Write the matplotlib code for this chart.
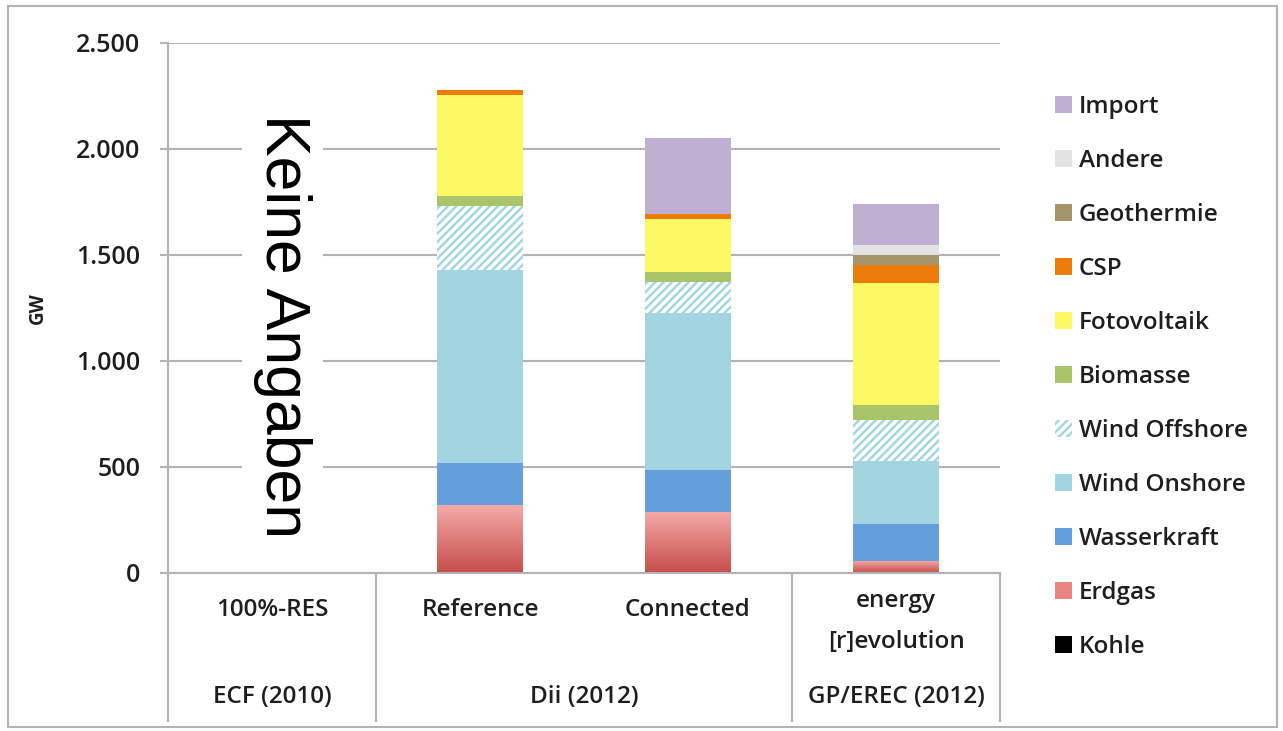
import matplotlib.pyplot as plt
import matplotlib.patches as mpatches
import matplotlib.transforms as mtransforms
from matplotlib.ticker import FuncFormatter
import numpy as np

plt.rcParams['font.family'] = ['Open Sans', 'DejaVu Sans']
plt.rcParams['hatch.linewidth'] = 2.5

# -------------------------
# Data (GW)
# -------------------------
scenarios = ["100%-RES", "Reference", "Connected", "energy\n[r]evolution"]
studies = ["ECF (2010)", "Dii (2012)", "GP/EREC (2012)"]
study_span = [(0, 0), (1, 2), (3, 3)]

kohle = [0, 0, 0, 0]
erdgas = [0, 320, 290, 58]
wasserkraft = [0, 200, 195, 172]
wind_onshore = [0, 910, 740, 300]
wind_offshore = [0, 300, 146, 192]
biomasse = [0, 47, 47, 70]
fotovoltaik = [0, 480, 250, 577]
csp = [0, 23, 24, 84]
geothermie = [0, 0, 0, 47]
andere = [0, 0, 0, 47]
import_gw = [0, 0, 358, 194]

series = [
    ("Kohle", kohle, "#000000"),
    ("Erdgas", erdgas, "#e98482"),
    ("Wasserkraft", wasserkraft, "#649fdb"),
    ("Wind Onshore", wind_onshore, "#a3d4e2"),
    ("Wind Offshore", wind_offshore, "#a3d4e2"),
    ("Biomasse", biomasse, "#a9c46b"),
    ("Fotovoltaik", fotovoltaik, "#fef865"),
    ("CSP", csp, "#ec7c0a"),
    ("Geothermie", geothermie, "#a6956a"),
    ("Andere", andere, "#e3e3e3"),
    ("Import", import_gw, "#bfb0d3"),
]

TXT = "#1e1e1e"
W, H = 1283, 731
fig = plt.figure(figsize=(W / 100, H / 100), dpi=100)
ax = fig.add_axes([168 / W, 1 - 573 / H, (1000 - 168) / W, (573 - 43) / H])

x = np.arange(len(scenarios))
bar_w = 0.41
bottom = np.zeros(len(scenarios))
handles = {}
for name, vals, col in series:
    vals = np.array(vals, dtype=float)
    if name == "Wind Offshore":
        bars = ax.bar(x, vals, bar_w, bottom=bottom, color=col, edgecolor="white",
                      hatch="////", linewidth=0, zorder=2)
    else:
        bars = ax.bar(x, vals, bar_w, bottom=bottom, color=col, linewidth=0, zorder=2)
    if name == "Erdgas":
        # vertical gradient: light pink on top, darker red at the base
        grad = np.linspace(0, 1, 100).reshape(-1, 1)
        cmap = plt.matplotlib.colors.LinearSegmentedColormap.from_list(
            "erd", ["#c54e4b", "#f5aaa8"])
        for p in bars.patches:
            if p.get_height() <= 0:
                continue
            x0, y0 = p.get_x(), p.get_y()
            im = ax.imshow(grad, extent=[x0, x0 + p.get_width(), y0, y0 + p.get_height()],
                           origin="lower", cmap=cmap, aspect="auto", zorder=2.1)
            im.set_clip_path(p)
    handles[name] = bars
    bottom += vals

ax.set_xlim(-0.5, 3.5)
ax.set_ylim(0, 2500)
ax.set_yticks([0, 500, 1000, 1500, 2000, 2500])
ax.yaxis.set_major_formatter(FuncFormatter(lambda v, p: f"{int(v):,}".replace(",", ".")))
ax.set_xticks([])
ax.grid(axis="y", color="#b3b3b3", linewidth=1.5)
ax.set_axisbelow(True)
for s in ["top", "right", "bottom"]:
    ax.spines[s].set_visible(False)
ax.spines["left"].set_color("#b3b3b3")
ax.spines["left"].set_linewidth(1.5)
ax.tick_params(axis="y", length=6, width=1.5, color="#b3b3b3", labelsize=18,
               labelcolor=TXT, pad=14)
for t in ax.get_yticklabels():
    t.set_fontweight("semibold")
ax.set_ylabel("GW", fontsize=13.5, fontweight="bold", labelpad=20, color=TXT)

# category axis below the plot
trans = mtransforms.blended_transform_factory(ax.transData, ax.transAxes)
ax.plot([-0.5, 3.5], [0, 0], color="#b3b3b3", lw=1.5, transform=trans, clip_on=False, zorder=3)
for xs in [-0.5, 0.5, 2.5, 3.5]:
    ax.plot([xs, xs], [0, -0.28], color="#b3b3b3", lw=1.5, transform=trans, clip_on=False)
for i, lab in enumerate(scenarios):
    ax.text(i, -0.07 if "\n" not in lab else -0.091, lab, transform=trans, ha="center",
            va="center", fontsize=17.5, color=TXT, linespacing=1.95, fontweight="semibold")
for lab, (a, b) in zip(studies, study_span):
    ax.text((a + b) / 2, -0.234, lab, transform=trans, ha="center", va="center",
            fontsize=17.5, color=TXT, fontweight="semibold")

ax.text(0.05, 1165, "Keine Angaben", rotation=-90, ha="center", va="center",
        fontsize=45, family=["Liberation Sans", "DejaVu Sans"], zorder=4,
        bbox=dict(facecolor="white", edgecolor="none", pad=8))

# legend (top to bottom: reverse stacking order)
order = [s[0] for s in series][::-1]
leg = fig.legend([handles[n] for n in order], order, loc="upper left",
                 bbox_to_anchor=(1045 / W, 1 - 85 / H), frameon=False,
                 prop={"size": 17.5, "weight": "semibold"},
                 handlelength=0.7, handleheight=0.7, handletextpad=0.3,
                 labelspacing=1.235, borderaxespad=0)
for t in leg.get_texts():
    t.set_color(TXT)

# outer frame
fig.patches.append(mpatches.Rectangle((8 / W, 1 - 727 / H), (1277 - 8) / W, (727 - 6) / H,
                                      transform=fig.transFigure, fill=False,
                                      edgecolor="#b3b3b3", linewidth=1.5))

fig.savefig("out.png", dpi=100)
